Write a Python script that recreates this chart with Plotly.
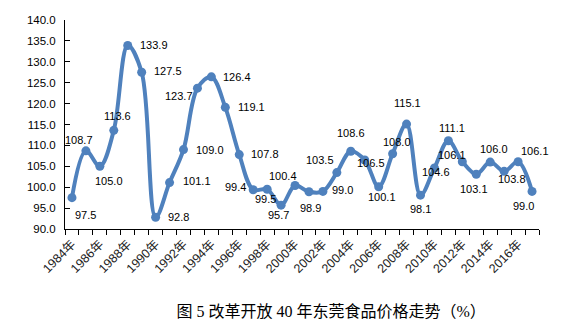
import plotly.graph_objects as go

# Dongguan food price index, 1984-2017 (previous year = 100)
years = list(range(1984, 2018))
price_index = [97.5, 108.7, 105.0, 113.6, 133.9, 127.5, 92.8, 101.1, 109.0, 123.7,
               126.4, 119.1, 107.8, 99.4, 99.5, 95.7, 100.4, 98.9, 99.0, 103.5,
               108.6, 106.5, 100.1, 108.0, 115.1, 98.1, 104.6, 111.1, 106.1, 103.1,
               106.0, 103.8, 106.1, 99.0]
tick_years = years[::2]
tick_text = [f"{y}年" for y in tick_years]
title_text = "图 5 改革开放 40 年东莞食品价格走势（%）"

# pixel offsets of each value label from its marker (dx right, dy down)
label_offsets = [(14, 17), (-7, -11), (9, 15), (4, -14), (26, -1), (26, -1), (23, 0),
                 (27, -2), (26, 0), (-18, 8), (26, 0), (26, 0), (26, -1), (-18, -3),
                 (-2, 10), (-3, 10), (-12, -10), (2, 16), (20, -1), (-17, -13),
                 (0, -18), (6, 3), (3, 10), (4, -12), (1, -21), (0, 14), (2, 4),
                 (4, -13), (-10, -7), (-2, 15), (4, -13), (8, 8), (17, -11), (-9, 15)]

LINE = "#4F81BD"
TXT = "Liberation Sans, Arial, Noto Sans CJK SC"

fig = go.Figure()
fig.add_trace(go.Scatter(
    x=years, y=price_index, mode="lines+markers",
    line=dict(color=LINE, width=4, shape="spline", smoothing=1.0),
    marker=dict(color=LINE, size=9),
    hoverinfo="skip", showlegend=False,
))

for yr, v, (dx, dy) in zip(years, price_index, label_offsets):
    fig.add_annotation(x=yr, y=v, text=f"{v:.1f}", showarrow=False,
                       xshift=dx, yshift=-dy,
                       font=dict(family=TXT, size=11, color="#000000"))

fig.update_layout(
    width=577, height=329,
    margin=dict(l=65, r=38, t=20, b=100),
    paper_bgcolor="white", plot_bgcolor="white",
    title=dict(text=title_text, xref="container", yref="container",
               x=0.574, y=0.052, xanchor="center", yanchor="middle",
               font=dict(family="Liberation Serif, Noto Sans CJK SC", size=16, color="#000000")),
)

fig.update_xaxes(
    range=[years[0] - 0.5, years[-1] + 0.5],
    tickmode="array", tickvals=tick_years, ticktext=tick_text,
    tickangle=-45, ticks="", showgrid=False, zeroline=False,
    showline=True, linecolor="#000000", linewidth=1,
    ticklabelstandoff=2,
    tickfont=dict(family=TXT, size=12.5, color="#222222"),
    minor=dict(tickmode="array",
               tickvals=[y - 0.5 for y in years] + [years[-1] + 0.5],
               ticks="outside", ticklen=5, tickwidth=1, tickcolor="#000000",
               showgrid=False),
)

fig.update_yaxes(
    range=[90, 140], dtick=5, tick0=90, tickformat=".1f",
    ticks="inside", ticklen=5, tickwidth=1, tickcolor="#000000",
    showgrid=False, zeroline=False,
    showline=True, linecolor="#000000", linewidth=1,
    ticklabelstandoff=6,
    tickfont=dict(family=TXT, size=11.5, color="#000000"),
)

fig.write_html("out.html")
